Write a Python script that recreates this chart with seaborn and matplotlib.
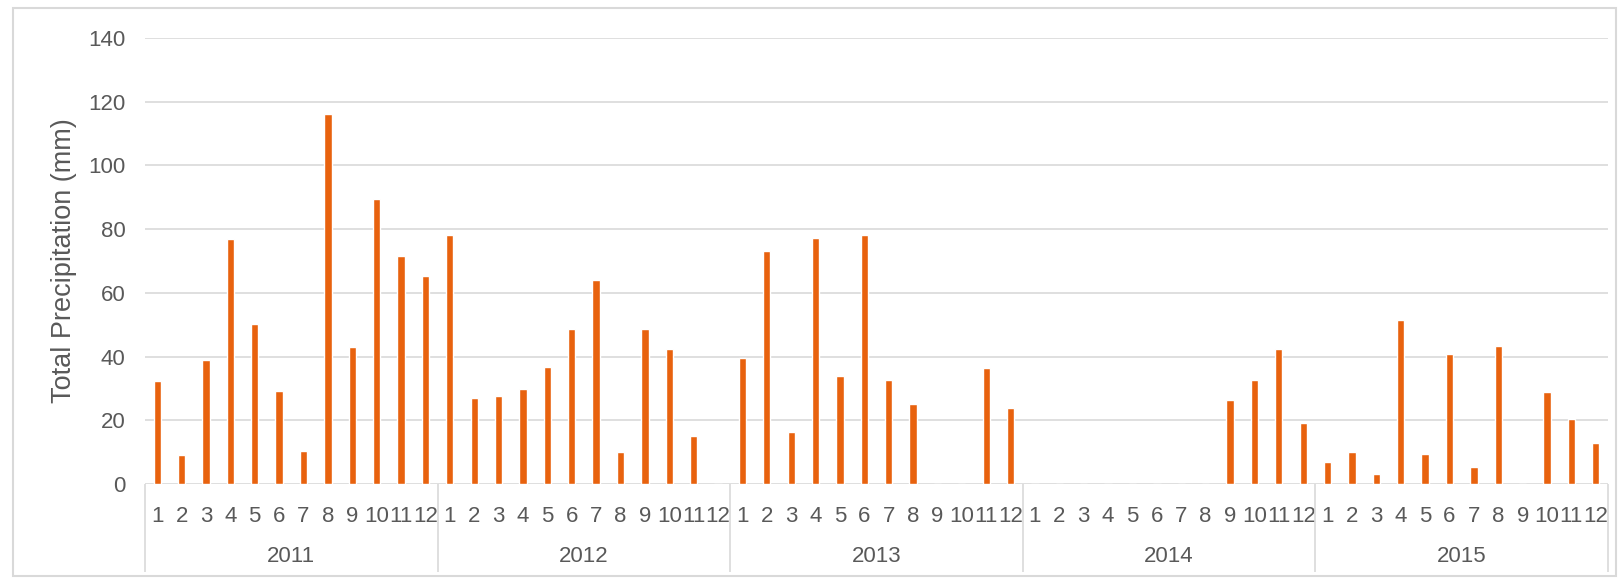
import matplotlib
matplotlib.use("Agg")
import matplotlib.pyplot as plt
import numpy as np
import pandas as pd
import seaborn as sns

sns.set_theme(style="white")
plt.rcParams["font.family"] = ["Liberation Sans", "DejaVu Sans"]

# monthly totals (mm)
years = [2011, 2012, 2013, 2014, 2015]
months = list(range(1, 13))
precip_2011 = [32.2, 9.0, 38.8, 76.8, 50.3, 29.1, 10.5, 116.2, 43.1, 89.5, 71.7, 65.2]
precip_2012 = [78.1, 27.0, 27.5, 29.7, 36.6, 48.7, 64.0, 10.2, 48.7, 42.4, 15.0, 0.0]
precip_2013 = [39.6, 73.1, 16.4, 77.3, 34.0, 78.2, 32.5, 25.0, 0.0, 0.0, 36.4, 23.9]
precip_2014 = [0.0, 0.0, 0.0, 0.0, 0.0, 0.0, 0.0, 0.0, 26.5, 32.6, 42.4, 19.1]
precip_2015 = [7.0, 10.0, 3.0, 51.6, 9.4, 40.7, 5.4, 43.3, 0.0, 28.9, 20.5, 12.8]
y_ticks = [0, 20, 40, 60, 80, 100, 120, 140]

BAR = "#E8620E"
TXT = "#595959"
GRID = "#D9D9D9"

all_vals = precip_2011 + precip_2012 + precip_2013 + precip_2014 + precip_2015
df = pd.DataFrame({
    "year": np.repeat(years, 12),
    "month": months * len(years),
    "precip": all_vals,
})
df["slot"] = np.arange(len(df))

fig = plt.figure(figsize=(16.23, 5.83), dpi=100)
ax = fig.add_axes([145 / 1623, 99 / 583, 1463 / 1623, 446 / 583])

sns.barplot(data=df, x="slot", y="precip", color=BAR, saturation=1,
            width=0.3, ax=ax)

ax.set_xlim(-0.5, len(df) - 0.5)
ax.set_ylim(0, 140)
ax.set_yticks(y_ticks)
ax.set_yticklabels([str(t) for t in y_ticks], fontsize=16, color=TXT)
ax.tick_params(axis="y", length=0, pad=14)

ax.set_xticks(df["slot"])
ax.set_xticklabels(df["month"].astype(str), fontsize=16, color=TXT)
ax.tick_params(axis="x", length=0, pad=15.5)

ax.set_xlabel("")
ax.set_ylabel("Total Precipitation (mm)", fontsize=19.5, color=TXT)
ax.yaxis.set_label_coords(-0.0465, 0.5)

ax.yaxis.grid(True, color=GRID, lw=1.2)
ax.set_axisbelow(True)
for s in ax.spines.values():
    s.set_visible(False)

# year group labels and separators under the month labels
trans = ax.get_xaxis_transform()
for i, yr in enumerate(years):
    ax.text(i * 12 + 5.5, -0.162, str(yr), transform=trans, ha="center",
            va="center", fontsize=16, color=TXT)
bounds = [i * 12 - 0.5 for i in range(len(years) + 1)]
ax.vlines(bounds, -0.197, 0, transform=trans, colors=GRID, lw=1.2, clip_on=False)

# light frame around the chart area
fig.patches.append(plt.Rectangle((13 / 1623, 7 / 583), 1603 / 1623, 568 / 583,
                                 transform=fig.transFigure, fill=False,
                                 edgecolor=GRID, lw=1.5))

fig.savefig("out.png", dpi=100)
